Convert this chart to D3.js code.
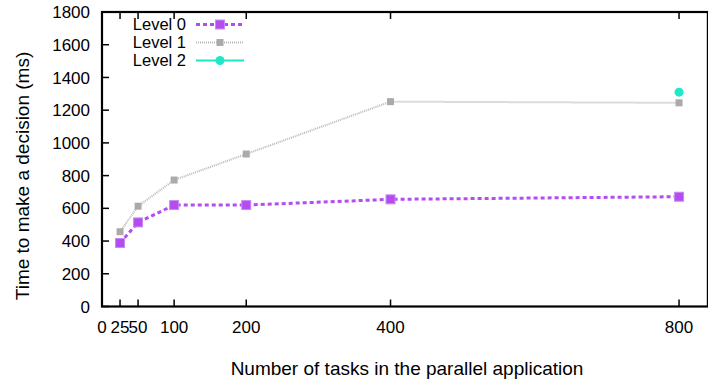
<!DOCTYPE html>
<html>
<head>
<meta charset="utf-8">
<script src="https://cdn.jsdelivr.net/npm/d3@7"></script>
<style>
  body { margin: 0; background: #fff; }
  svg { display: block; font-family: "Liberation Sans", Arial, sans-serif; }
</style>
</head>
<body>
<div id="chart"></div>
<script>
// data
const tasks = [25, 50, 100, 200, 400, 800];
const level0 = [388, 514, 620, 620, 655, 671];
const level1 = [457, 613, 773, 932, 1252, 1245];
const level2Tasks = [800];
const level2 = [1310];
const xTicks = [0, 25, 50, 100, 200, 400, 800];
const yTicks = [0, 200, 400, 600, 800, 1000, 1200, 1400, 1600, 1800];
const seriesNames = ["Level 0", "Level 1", "Level 2"];

const width = 708, height = 386;
const plotLeft = 102, plotTop = 12, plotBottom = 306.5;

const svg = d3.select("#chart").append("svg")
    .attr("width", width)
    .attr("height", height);

const x = d3.scaleLinear().domain([0, 840]).range([plotLeft, plotLeft + 840 * 0.7213]);
const y = d3.scaleLinear().domain([0, 1800]).range([plotBottom, plotTop]);

// frame
svg.append("rect")
    .attr("x", x(0)).attr("y", y(1800))
    .attr("width", x(840) - x(0)).attr("height", y(0) - y(1800))
    .attr("fill", "none").attr("stroke", "#000").attr("stroke-width", 2.2);

// y ticks (inside, gnuplot style)
svg.selectAll(".ytick").data(yTicks).enter().append("line")
    .attr("x1", x(0)).attr("x2", x(0) + 7)
    .attr("y1", d => y(d)).attr("y2", d => y(d))
    .attr("stroke", "#000").attr("stroke-width", 1.5);

svg.selectAll(".ylab").data(yTicks).enter().append("text")
    .attr("x", 90).attr("y", d => y(d)).attr("dy", "0.36em")
    .attr("text-anchor", "end").attr("font-size", 17)
    .text(d => d);

// x ticks, bottom and mirrored on top
svg.selectAll(".xtick").data(xTicks.filter(d => d > 0)).enter().append("line")
    .attr("x1", d => x(d)).attr("x2", d => x(d))
    .attr("y1", y(0)).attr("y2", y(0) - 7)
    .attr("stroke", "#000").attr("stroke-width", 1.5);
svg.selectAll(".xtick2").data(xTicks.filter(d => d > 0)).enter().append("line")
    .attr("x1", d => x(d)).attr("x2", d => x(d))
    .attr("y1", y(1800)).attr("y2", y(1800) + 7)
    .attr("stroke", "#000").attr("stroke-width", 1.5);

svg.selectAll(".xlab").data(xTicks).enter().append("text")
    .attr("x", d => x(d)).attr("y", 333)
    .attr("text-anchor", "middle").attr("font-size", 17)
    .text(d => d);

// axis titles
svg.append("text")
    .attr("x", 407).attr("y", 368).attr("dy", "0.36em")
    .attr("text-anchor", "middle").attr("font-size", 19)
    .text("Number of tasks in the parallel application");
svg.append("text")
    .attr("transform", "translate(29,176) rotate(-90)")
    .attr("text-anchor", "middle").attr("font-size", 19)
    .text("Time to make a decision (ms)");

const line = d3.line().x(d => x(d[0])).y(d => y(d[1]));

// Level 1 (gray dotted)
const s1 = tasks.map((t, i) => [t, level1[i]]);
svg.append("path").datum(s1).attr("d", line)
    .attr("fill", "none").attr("stroke", "#b8b8b8").attr("stroke-width", 2)
    .attr("stroke-dasharray", "1,1");
svg.selectAll(".m1").data(s1).enter().append("rect")
    .attr("x", d => x(d[0]) - 3.5).attr("y", d => y(d[1]) - 3.5)
    .attr("width", 7).attr("height", 7).attr("fill", "#aaaaaa");

// Level 0 (purple dashed)
const s0 = tasks.map((t, i) => [t, level0[i]]);
svg.append("path").datum(s0).attr("d", line)
    .attr("fill", "none").attr("stroke", "#b44cf0").attr("stroke-width", 3)
    .attr("stroke-dasharray", "4,3");
svg.selectAll(".m0").data(s0).enter().append("rect")
    .attr("x", d => x(d[0]) - 4.5).attr("y", d => y(d[1]) - 4.5)
    .attr("width", 9).attr("height", 9).attr("fill", "#b44cf0")
    .attr("stroke", "#c98af5").attr("stroke-width", 1);

// Level 2 (turquoise)
const s2 = level2Tasks.map((t, i) => [t, level2[i]]);
svg.selectAll(".m2").data(s2).enter().append("circle")
    .attr("cx", d => x(d[0])).attr("cy", d => y(d[1]))
    .attr("r", 4.5).attr("fill", "#1ee8c8");

// legend
const legendY = [24.5, 42.5, 60.5];
const legend = svg.append("g");
legend.selectAll("text").data(seriesNames).enter().append("text")
    .attr("x", 186).attr("y", (d, i) => legendY[i]).attr("dy", "0.36em")
    .attr("text-anchor", "end").attr("font-size", 16.5)
    .text(d => d);
legend.append("line").attr("x1", 196).attr("x2", 244).attr("y1", legendY[0]).attr("y2", legendY[0])
    .attr("stroke", "#b44cf0").attr("stroke-width", 3).attr("stroke-dasharray", "4,3");
legend.append("rect").attr("x", 220 - 4.5).attr("y", legendY[0] - 4.5).attr("width", 9).attr("height", 9)
    .attr("fill", "#b44cf0").attr("stroke", "#c98af5");
legend.append("line").attr("x1", 196).attr("x2", 244).attr("y1", legendY[1]).attr("y2", legendY[1])
    .attr("stroke", "#b8b8b8").attr("stroke-width", 2).attr("stroke-dasharray", "1,1");
legend.append("rect").attr("x", 220 - 3.5).attr("y", legendY[1] - 3.5).attr("width", 7).attr("height", 7)
    .attr("fill", "#aaaaaa");
legend.append("line").attr("x1", 196).attr("x2", 244).attr("y1", legendY[2]).attr("y2", legendY[2])
    .attr("stroke", "#1ee8c8").attr("stroke-width", 2);
legend.append("circle").attr("cx", 220).attr("cy", legendY[2]).attr("r", 4.5).attr("fill", "#1ee8c8");
</script>
</body>
</html>
